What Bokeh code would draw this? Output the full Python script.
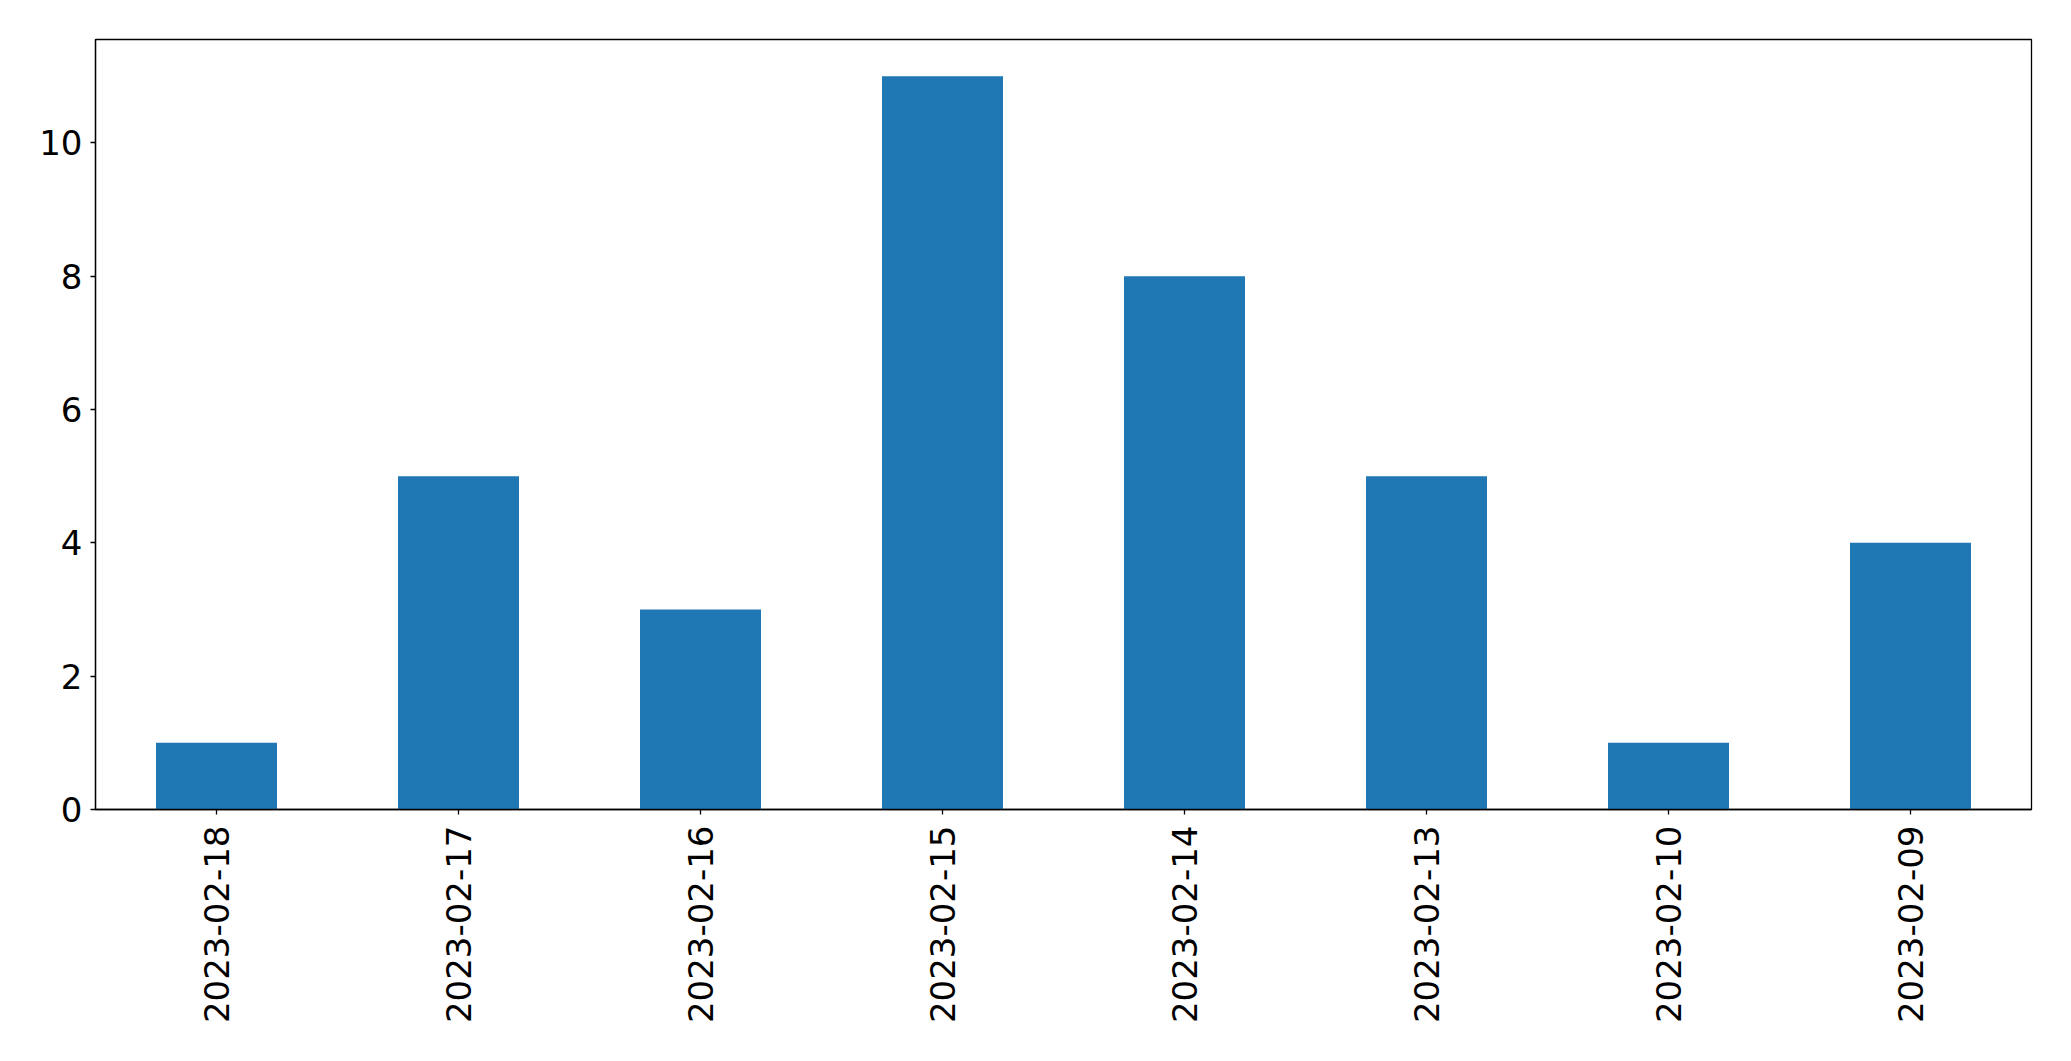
import math
from bokeh.plotting import figure
from bokeh.models import FactorRange, Range1d, FixedTicker, ColumnDataSource
from bokeh.embed import file_html
from bokeh.resources import INLINE

dates = ["2023-02-18", "2023-02-17", "2023-02-16", "2023-02-15",
         "2023-02-14", "2023-02-13", "2023-02-10", "2023-02-09"]
counts = [1, 5, 3, 11, 8, 5, 1, 4]
y_ticks = [0, 2, 4, 6, 8, 10]

src = ColumnDataSource(dict(x=dates, top=counts))

p = figure(
    x_range=FactorRange(factors=dates, range_padding=0),
    y_range=Range1d(0, max(counts) * 1.05),
    width=2063, height=1049,
    min_border_left=95, min_border_right=32,
    min_border_top=39, min_border_bottom=240,
    output_backend="svg", toolbar_location=None,
)
p.vbar(x="x", top="top", width=0.5, source=src, color="#1f77b4", line_color=None)

p.xgrid.visible = False
p.ygrid.visible = False
p.outline_line_color = "black"
p.outline_line_width = 1.3
p.background_fill_color = "white"
p.border_fill_color = "white"

p.yaxis.ticker = FixedTicker(ticks=y_ticks)
for ax in (p.xaxis[0], p.yaxis[0]):
    ax.major_label_text_font = "DejaVu Sans"
    ax.major_label_text_font_size = "34px"
    ax.major_label_text_color = "black"
    ax.axis_line_color = "black"
    ax.axis_line_width = 1.3
    ax.major_tick_line_color = "black"
    ax.major_tick_line_width = 1.3
    ax.major_tick_out = 5
    ax.major_tick_in = 0
    ax.minor_tick_line_color = None

p.xaxis.major_label_orientation = math.pi / 2
p.xaxis.major_label_standoff = 11
p.yaxis.major_label_standoff = 8

open("out.html", "w").write(file_html(p, INLINE))
